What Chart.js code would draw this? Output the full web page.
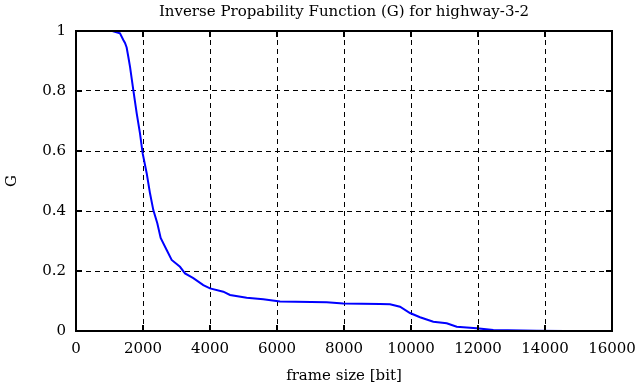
<!DOCTYPE html>
<html>
<head>
<meta charset="utf-8">
<script src="https://cdn.jsdelivr.net/npm/chart.js@4/dist/chart.umd.min.js"></script>
<style>
  html, body { margin: 0; padding: 0; background: #fff; }
  #wrap { width: 639px; height: 387px; }
</style>
</head>
<body>
<div id="wrap"><canvas id="chart"></canvas></div>
<script>
'use strict';

const frameSize = [1085, 1313, 1413, 1463, 1512, 1560, 1612, 1711, 1811, 1910,
    1990, 2110, 2209, 2308, 2427, 2527, 2707, 2856, 3104, 3254,
    3502, 3800, 4000, 4397, 4597, 5095, 5591, 6090, 7484, 7979,
    9075, 9373, 9672, 9970, 10269, 10666, 11066, 11364, 11961, 12458,
    13752, 14597];
const gValues = [1.0, 0.992, 0.97, 0.96, 0.945, 0.915, 0.881, 0.803, 0.726, 0.659,
    0.592, 0.526, 0.459, 0.403, 0.359, 0.31, 0.27, 0.237, 0.214, 0.192,
    0.176, 0.153, 0.142, 0.131, 0.12, 0.111, 0.106, 0.098, 0.096, 0.092,
    0.09, 0.089, 0.081, 0.06, 0.046, 0.031, 0.026, 0.014, 0.009, 0.003,
    0.001, 0.0];

const titleText = 'Inverse Propability Function (G) for highway-3-2';
const xTitle = 'frame size [bit]';
const yTitle = 'G';

const serif = 'DejaVu Serif';

let points = [];
for (let i = 0; i < frameSize.length; i++) {
    points.push({ x: frameSize[i], y: gValues[i] });
}

// box around the plot and inward tick marks on all four sides
const frameTicks = {
    id: 'frameTicks',
    afterDraw(chart) {
        const ctx = chart.ctx;
        const a = chart.chartArea;
        const len = 6;
        ctx.save();
        ctx.strokeStyle = '#000';
        ctx.lineWidth = 2;
        ctx.setLineDash([]);
        ctx.strokeRect(a.left, a.top, a.right - a.left, a.bottom - a.top);
        ctx.beginPath();
        chart.scales.x.ticks.forEach((t) => {
            const px = chart.scales.x.getPixelForValue(t.value);
            ctx.moveTo(px, a.bottom); ctx.lineTo(px, a.bottom - len);
            ctx.moveTo(px, a.top); ctx.lineTo(px, a.top + len);
        });
        chart.scales.y.ticks.forEach((t) => {
            const py = chart.scales.y.getPixelForValue(t.value);
            ctx.moveTo(a.left, py); ctx.lineTo(a.left + len, py);
            ctx.moveTo(a.right, py); ctx.lineTo(a.right - len, py);
        });
        ctx.stroke();
        ctx.restore();
    }
};

new Chart(document.getElementById('chart'), {
    type: 'scatter',
    data: {
        datasets: [
            {
                data: points,
                showLine: true,
                borderColor: '#0000ff',
                borderWidth: 2,
                pointRadius: 0,
                tension: 0
            }
        ]
    },
    options: {
        responsive: true,
        maintainAspectRatio: false,
        animation: false,
        layout: { padding: { left: 0, right: 27, top: 0, bottom: 0 } },
        scales: {
            x: {
                type: 'linear',
                min: 0,
                max: 16000,
                afterFit: (scale) => {
                    scale.height = 56;
                    scale.paddingLeft = 0;
                    scale.paddingRight = 0;
                },
                ticks: {
                    stepSize: 2000,
                    color: '#000',
                    padding: 9,
                    maxRotation: 0,
                    font: { family: serif, size: 15 },
                    callback: (v) => String(v)
                },
                grid: {
                    color: '#000',
                    lineWidth: 1,
                    drawTicks: false
                },
                border: { display: true, color: '#000', width: 2, dash: [5, 4] },
                title: {
                    display: true,
                    text: xTitle,
                    color: '#000',
                    font: { family: serif, size: 15 },
                    padding: { top: 0, bottom: 2 }
                }
            },
            y: {
                min: 0,
                max: 1,
                afterFit: (scale) => { scale.width = 76; },
                ticks: {
                    stepSize: 0.2,
                    color: '#000',
                    padding: 10,
                    font: { family: serif, size: 15 },
                    callback: (v) => String(Math.round(v * 10) / 10)
                },
                grid: {
                    color: '#000',
                    lineWidth: 1,
                    drawTicks: false
                },
                border: { display: true, color: '#000', width: 2, dash: [5, 4] },
                title: {
                    display: true,
                    text: yTitle,
                    color: '#000',
                    font: { family: serif, size: 15 },
                    padding: { top: 3, bottom: 0 }
                }
            }
        },
        plugins: {
            legend: { display: false },
            tooltip: { enabled: false },
            title: {
                display: true,
                fullSize: false,
                text: titleText,
                color: '#000',
                font: { family: serif, size: 15, weight: 'normal' },
                padding: { top: 3, bottom: 10 }
            }
        }
    },
    plugins: [frameTicks]
});
</script>
</body>
</html>
